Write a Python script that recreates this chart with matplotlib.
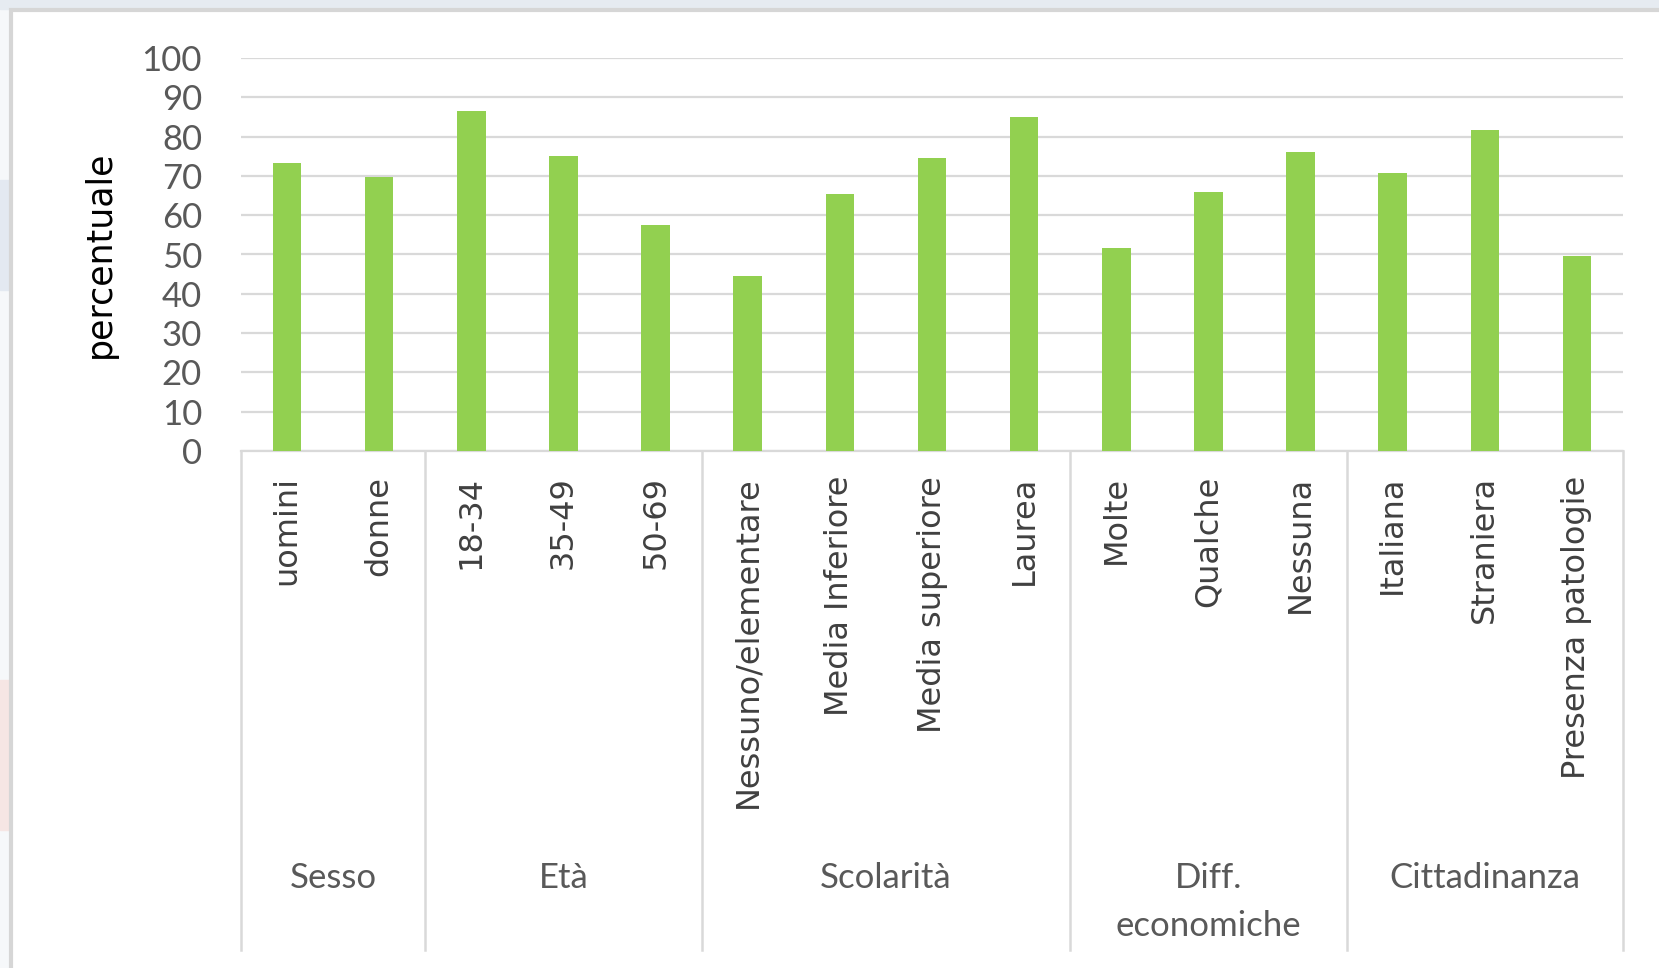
import numpy as np
import matplotlib
matplotlib.use("Agg")
import matplotlib.pyplot as plt
from matplotlib.patches import Rectangle
import matplotlib.transforms as mtransforms

# 1) Data
# ===================================================================
categories = ["uomini", "donne", "18-34", "35-49", "50-69",
              "Nessuno/elementare", "Media Inferiore", "Media superiore", "Laurea",
              "Molte", "Qualche", "Nessuna",
              "Italiana", "Straniera", "Presenza patologie"]
values = [73.4, 69.7, 86.6, 75.1, 57.6,
          44.5, 65.4, 74.6, 85.1,
          51.7, 65.9, 76.2,
          70.8, 81.8, 49.5]
groups = ["Sesso", "Età", "Scolarità", "Diff.\neconomiche", "Cittadinanza"]
group_sizes = [2, 3, 4, 3, 3]
yticks = list(range(0, 101, 10))

# 2) Style
# ===================================================================
bar_color = "#92D050"
grid_color = "#d9d9d9"
text_gray = "#595959"

W, H = 1659, 968
fig = plt.figure(figsize=(W / 100, H / 100), dpi=100, facecolor="#f6f8fa")

# background panel (slide-like frame)
bg = fig.add_axes([0, 0, 1, 1], zorder=-10)
bg.set_xlim(0, W)
bg.set_ylim(H, 0)
bg.axis("off")
bg.add_patch(Rectangle((0, 0), W, 9, color="#e6ebf1"))
bg.add_patch(Rectangle((0, 180), 9, 110, color="#e3e9f1"))
bg.add_patch(Rectangle((0, 680), 9, 150, color="#f6e6e4"))
bg.add_patch(Rectangle((11, 10), W, H, facecolor="white",
                       edgecolor="#d6d6d6", linewidth=3))

# 3) Chart
# ===================================================================
ax = fig.add_axes([241 / W, 1 - 451 / H, (1623 - 241) / W, (451 - 58) / H])
ax.set_facecolor("none")

x = np.arange(len(categories))
ax.bar(x, values, width=0.31, color=bar_color, zorder=3)

ax.set_xlim(-0.5, len(categories) - 0.5)
ax.set_ylim(0, 100)
ax.set_yticks(yticks)
ax.set_yticklabels([str(t) for t in yticks], family="Lato", fontsize=25,
                   color=text_gray)
ax.tick_params(axis="y", length=0, pad=28)
ax.grid(axis="y", color=grid_color, linewidth=1.6, zorder=0)

ax.set_xticks(x)
ax.set_xticklabels(categories, rotation=90, fontsize=23, color="#404040",
                   va="top")
ax.tick_params(axis="x", length=0, pad=18)

for side in ["top", "right", "left"]:
    ax.spines[side].set_visible(False)
ax.spines["bottom"].set_color(grid_color)
ax.spines["bottom"].set_linewidth(1.6)

ax.set_ylabel("percentuale", fontsize=25, color="black")
ax.yaxis.set_label_coords(-124 / (1623 - 241), 0.5)

# group separators and labels below the category axis
trans = mtransforms.blended_transform_factory(ax.transData, ax.transAxes)
axes_h = 451 - 58
y_bottom = -(950 - 451) / axes_h
y_group = -(862 - 451) / axes_h

edges = np.concatenate([[0], np.cumsum(group_sizes)]) - 0.5
for e in edges:
    ax.plot([e, e], [0, y_bottom], color=grid_color, linewidth=1.8,
            transform=trans, clip_on=False)

for name, lo, hi in zip(groups, edges[:-1], edges[1:]):
    ax.text((lo + hi) / 2, y_group, name, transform=trans, ha="center",
            va="top", family="Lato", fontsize=25, color=text_gray,
            linespacing=1.6)

fig.savefig("out.png", dpi=100, facecolor=fig.get_facecolor())
